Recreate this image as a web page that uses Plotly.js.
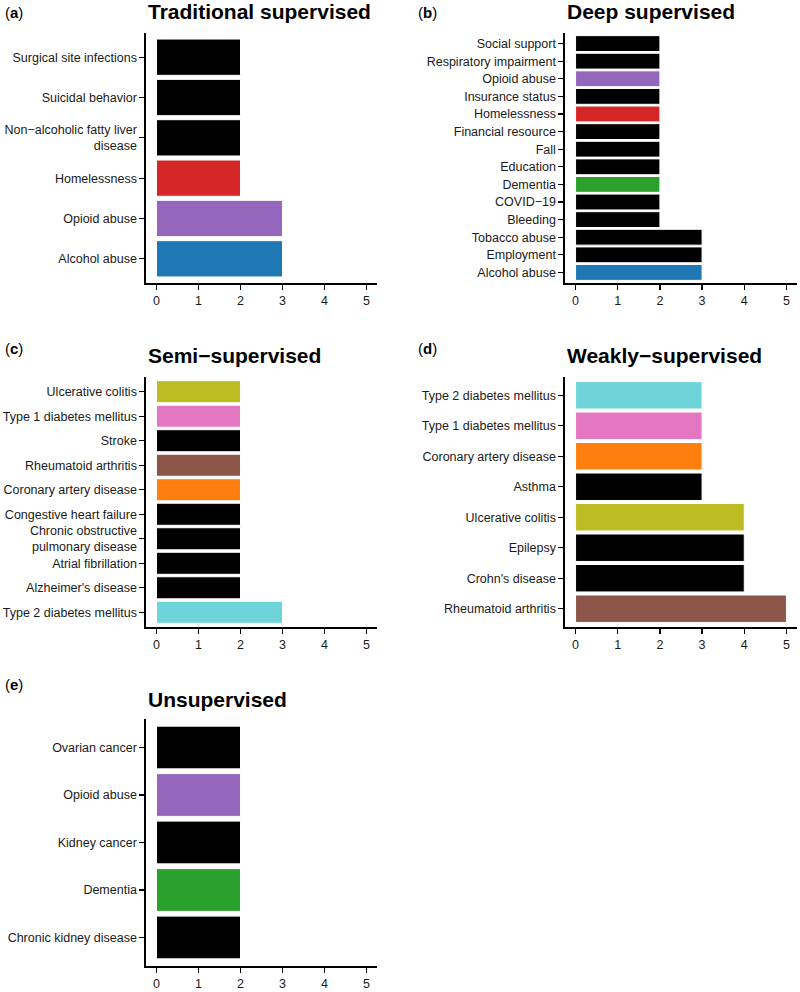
<!DOCTYPE html>
<html>
<head>
<meta charset="utf-8">
<script src="https://cdn.plot.ly/plotly-3.0.1.min.js"></script>
<style>
  body { margin: 0; background: #fff; }
  #chart { width: 800px; height: 992px; }
</style>
</head>
<body>
<div id="chart"></div>
<script>
// Counts per panel, categories listed top to bottom as in the figure
const tradLabels = ['Surgical site infections', 'Suicidal behavior', 'Non\u2212alcoholic fatty liver<br>disease',
  'Homelessness', 'Opioid abuse', 'Alcohol abuse'];
const tradValues = [2, 2, 2, 2, 3, 3];

const deepLabels = ['Social support', 'Respiratory impairment', 'Opioid abuse', 'Insurance status', 'Homelessness',
  'Financial resource', 'Fall', 'Education', 'Dementia', 'COVID\u221219', 'Bleeding', 'Tobacco abuse',
  'Employment', 'Alcohol abuse'];
const deepValues = [2, 2, 2, 2, 2, 2, 2, 2, 2, 2, 2, 3, 3, 3];

const semiLabels = ['Ulcerative colitis', 'Type 1 diabetes mellitus', 'Stroke', 'Rheumatoid arthritis',
  'Coronary artery disease', 'Congestive heart failure', 'Chronic obstructive<br>pulmonary disease',
  'Atrial fibrillation', "Alzheimer's disease", 'Type 2 diabetes mellitus'];
const semiValues = [2, 2, 2, 2, 2, 2, 2, 2, 2, 3];

const weakLabels = ['Type 2 diabetes mellitus', 'Type 1 diabetes mellitus', 'Coronary artery disease', 'Asthma',
  'Ulcerative colitis', 'Epilepsy', "Crohn's disease", 'Rheumatoid arthritis'];
const weakValues = [3, 3, 3, 3, 4, 4, 4, 5];

const unsupLabels = ['Ovarian cancer', 'Opioid abuse', 'Kidney cancer', 'Dementia', 'Chronic kidney disease'];
const unsupValues = [2, 2, 2, 2, 2];

const xTicks = [0, 1, 2, 3, 4, 5];

// highlighted conditions share a colour across panels, everything else is black
const colourOf = {
  'Alcohol abuse': '#1f77b4',
  'Opioid abuse': '#9467bd',
  'Homelessness': '#d62728',
  'Dementia': '#2ca02c',
  'Coronary artery disease': '#ff7f0e',
  'Rheumatoid arthritis': '#8c564b',
  'Type 1 diabetes mellitus': '#e377c2',
  'Ulcerative colitis': '#bcbd22',
  'Type 2 diabetes mellitus': '#6fd4da'
};

const W = 800, H = 992;
const px = v => v / W;
const py = v => 1 - v / H;

const panels = [
  { tag: 'a', title: 'Traditional supervised', labels: tradLabels, values: tradValues, x0: 146, x1: 377, top: 33, bottom: 283, labY: 13, titleY: 11 },
  { tag: 'b', title: 'Deep supervised', labels: deepLabels, values: deepValues, x0: 565, x1: 797, top: 33, bottom: 283, labY: 13, titleY: 11 },
  { tag: 'c', title: 'Semi\u2212supervised', labels: semiLabels, values: semiValues, x0: 146, x1: 377, top: 377, bottom: 627, labY: 348, titleY: 355 },
  { tag: 'd', title: 'Weakly\u2212supervised', labels: weakLabels, values: weakValues, x0: 565, x1: 797, top: 377, bottom: 627, labY: 348, titleY: 355 },
  { tag: 'e', title: 'Unsupervised', labels: unsupLabels, values: unsupValues, x0: 146, x1: 377, top: 719, bottom: 966, labY: 684, titleY: 699 }
];

const tickFont = { family: 'Liberation Sans, Arial, sans-serif', size: 12.5, color: '#1a1a1a' };

const traces = [];
const layout = {
  width: W,
  height: H,
  margin: { l: 0, r: 0, t: 0, b: 0 },
  paper_bgcolor: '#fff',
  plot_bgcolor: '#fff',
  showlegend: false,
  annotations: []
};

panels.forEach((p, i) => {
  const n = i === 0 ? '' : String(i + 1);
  traces.push({
    type: 'bar',
    orientation: 'h',
    x: p.values,
    y: p.labels,
    xaxis: 'x' + n,
    yaxis: 'y' + n,
    width: 0.9,
    marker: {
      color: p.labels.map(l => colourOf[l.replace('<br>', ' ')] || '#000000'),
      line: { color: '#ffffff', width: 1 }
    },
    hoverinfo: 'skip'
  });

  layout['xaxis' + n] = {
    domain: [px(p.x0), px(p.x1)],
    anchor: 'y' + n,
    range: [-0.25, 5.25],
    tickvals: xTicks,
    ticks: 'outside',
    ticklen: 5,
    tickwidth: 1.2,
    tickcolor: '#000',
    showline: true,
    linecolor: '#000',
    linewidth: 1.6,
    showgrid: false,
    zeroline: false,
    tickfont: tickFont,
    fixedrange: true
  };
  layout['yaxis' + n] = {
    domain: [py(p.bottom), py(p.top)],
    anchor: 'x' + n,
    type: 'category',
    categoryorder: 'array',
    categoryarray: p.labels,
    range: [p.labels.length - 0.4, -0.6],
    ticks: 'outside',
    ticklen: 5,
    tickwidth: 1.2,
    tickcolor: '#000',
    showline: true,
    linecolor: '#000',
    linewidth: 1.6,
    showgrid: false,
    zeroline: false,
    tickfont: tickFont,
    fixedrange: true
  };

  // panel letter
  layout.annotations.push({
    xref: 'paper', yref: 'paper',
    x: px(p.x0 < 400 ? 3 : 416), y: py(p.labY),
    xanchor: 'left', yanchor: 'middle',
    text: '(<b>' + p.tag + '</b>)',
    showarrow: false,
    font: { family: 'Liberation Sans, Arial, sans-serif', size: 15, color: '#000' }
  });
  // panel title, left-aligned with the plotting area
  layout.annotations.push({
    xref: 'paper', yref: 'paper',
    x: px(p.x0), y: py(p.titleY),
    xanchor: 'left', yanchor: 'middle',
    text: '<b>' + p.title + '</b>',
    showarrow: false,
    font: { family: 'Liberation Sans, Arial, sans-serif', size: 21, color: '#000' }
  });
});

Plotly.newPlot('chart', traces, layout, { displayModeBar: false, staticPlot: true });
</script>
</body>
</html>
